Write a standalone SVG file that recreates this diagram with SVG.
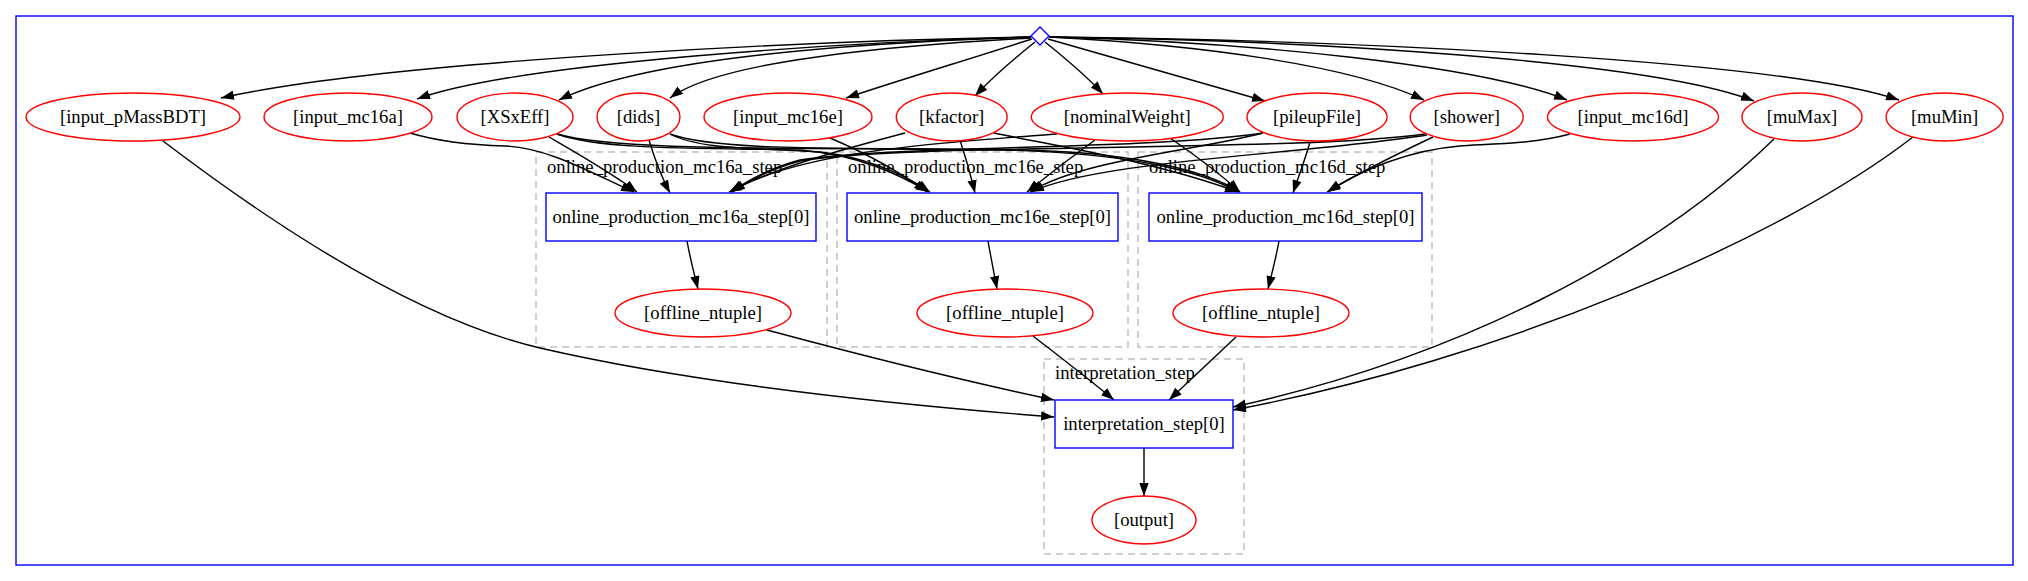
<svg xmlns="http://www.w3.org/2000/svg" width="2028" height="581" viewBox="0 0 2028 581">
<defs>
<marker id="ah" markerUnits="userSpaceOnUse" viewBox="0 0 13 9.4" refX="13" refY="4.7" markerWidth="13" markerHeight="9.4" orient="auto"><path d="M0,0 L13,4.7 L0,9.4 z" fill="#000"/></marker>
<style>
text{font-size:18.67px;fill:#000}
.c{text-anchor:middle}
.el{fill:#fff;stroke:#ff0000;stroke-width:1.4}
.bx{fill:#fff;stroke:#0000ff;stroke-width:1.4}
.cl{fill:none;stroke:#c0c0c0;stroke-width:1.5;stroke-dasharray:7,5}
.e path{fill:none;stroke:#000;stroke-width:1.4;marker-end:url(#ah)}
</style>
</defs>
<rect width="2028" height="581" fill="#fff"/>
<rect x="16" y="16" width="1997" height="549" fill="none" stroke="#0000ff" stroke-width="1.4"/>
<g font-family="Liberation Serif, Times New Roman, serif">
<g id="clusters">
<rect class="cl" x="536" y="152" width="291" height="195"/>
<text x="547" y="173">online_production_mc16a_step</text>
<rect class="cl" x="837" y="152" width="291" height="195"/>
<text x="848" y="173">online_production_mc16e_step</text>
<rect class="cl" x="1138" y="152" width="294" height="195"/>
<text x="1149" y="173">online_production_mc16d_step</text>
<rect class="cl" x="1044" y="359" width="200" height="195"/>
<text x="1055" y="379">interpretation_step</text>
</g>
<g class="e" id="connectors">
<path d="M1031,37 C850,40 400,58 221,98"/>
<path d="M1031,37 C850,42 520,62 417,99"/>
<path d="M1031,37 C880,42 650,55 559,100"/>
<path d="M1031,38 C900,45 720,60 670,98"/>
<path d="M1032,39 C960,62 900,80 846,98"/>
<path d="M1035,42 C1010,62 990,80 975,96"/>
<path d="M1045,42 C1070,62 1090,80 1103,94"/>
<path d="M1048,39 C1130,62 1200,82 1265,101"/>
<path d="M1049,37 C1200,45 1350,65 1424,100"/>
<path d="M1049,37 C1250,42 1480,65 1567,100"/>
<path d="M1049,37 C1300,40 1650,60 1754,101"/>
<path d="M1049,37 C1350,40 1780,60 1899,100"/>
<path d="M163,141 C280,230 420,320 540,348 C700,385 900,405 1054,417"/>
<path d="M410,133 C440,142 470,145 505,146 C545,147 590,172 634,192"/>
<path d="M549,137 C580,155 610,172 637,192"/>
<path d="M557,134 C600,150 700,148 800,150 C860,155 900,175 929,192"/>
<path d="M557,134 C620,152 800,147 1000,150 C1120,152 1200,170 1238,192"/>
<path d="M649,140 C655,160 662,178 670,193"/>
<path d="M670,134 C700,150 760,148 820,152 C870,158 905,175 930,192"/>
<path d="M670,134 C720,152 850,147 1020,150 C1130,152 1205,170 1240,192"/>
<path d="M830,138 C870,155 900,172 927,192"/>
<path d="M905,133 C860,145 780,165 729,192"/>
<path d="M960,140 C966,158 971,176 975,193"/>
<path d="M994,133 C1050,145 1150,160 1238,192"/>
<path d="M1057,134 C950,142 800,150 730,192"/>
<path d="M1095,140 C1070,158 1048,175 1027,192"/>
<path d="M1170,138 C1195,155 1218,172 1240,192"/>
<path d="M1263,133 C1150,150 900,145 800,160 C770,168 748,180 731,192"/>
<path d="M1263,133 C1200,150 1080,160 1030,192"/>
<path d="M1310,142 C1305,160 1298,178 1293,193"/>
<path d="M1425,134 C1300,152 900,143 800,161 C770,169 750,180 732,192"/>
<path d="M1427,135 C1300,155 1100,160 1031,192"/>
<path d="M1433,137 C1395,155 1360,172 1327,192"/>
<path d="M1570,134 C1530,145 1480,144 1460,146 C1410,150 1360,170 1328,192"/>
<path d="M1774,139 C1650,260 1450,360 1233,407"/>
<path d="M1913,137 C1780,240 1500,360 1233,410"/>
<path d="M687,241 C690,258 694,273 698,289"/>
<path d="M988,241 C991,258 994,273 997,289"/>
<path d="M1279,241 C1276,258 1272,273 1268,289"/>
<path d="M767,330 C860,355 960,380 1054,400"/>
<path d="M1033,336 C1060,357 1090,380 1114,400"/>
<path d="M1236,337 C1215,357 1190,380 1169,400"/>
<path d="M1144,448 L1144,496"/>
</g>
<g id="start"><path d="M1040,27 L1049,36 L1040,45 L1031,36 z" fill="#fff" stroke="#0000ff" stroke-width="1.4"/></g>
<g id="input_pMassBDT"><ellipse class="el" cx="133" cy="117" rx="107" ry="24"/><text class="c" x="133" y="123">[input_pMassBDT]</text></g>
<g id="input_mc16a"><ellipse class="el" cx="348" cy="117" rx="84" ry="24"/><text class="c" x="348" y="123">[input_mc16a]</text></g>
<g id="XSxEff"><ellipse class="el" cx="515" cy="117" rx="58" ry="24"/><text class="c" x="515" y="123">[XSxEff]</text></g>
<g id="dids"><ellipse class="el" cx="638.5" cy="117" rx="41.5" ry="24"/><text class="c" x="638.5" y="123">[dids]</text></g>
<g id="input_mc16e"><ellipse class="el" cx="788" cy="117" rx="84" ry="24"/><text class="c" x="788" y="123">[input_mc16e]</text></g>
<g id="kfactor"><ellipse class="el" cx="951.7" cy="117" rx="55.4" ry="24"/><text class="c" x="951.7" y="123">[kfactor]</text></g>
<g id="nominalWeight"><ellipse class="el" cx="1127.3" cy="117" rx="96" ry="24"/><text class="c" x="1127.3" y="123">[nominalWeight]</text></g>
<g id="pileupFile"><ellipse class="el" cx="1317" cy="117" rx="70" ry="24"/><text class="c" x="1317" y="123">[pileupFile]</text></g>
<g id="shower"><ellipse class="el" cx="1466.7" cy="117" rx="56.5" ry="24"/><text class="c" x="1466.7" y="123">[shower]</text></g>
<g id="input_mc16d"><ellipse class="el" cx="1633" cy="117" rx="85.5" ry="24"/><text class="c" x="1633" y="123">[input_mc16d]</text></g>
<g id="muMax"><ellipse class="el" cx="1802" cy="117" rx="60" ry="24"/><text class="c" x="1802" y="123">[muMax]</text></g>
<g id="muMin"><ellipse class="el" cx="1944.6" cy="117" rx="58.5" ry="24"/><text class="c" x="1944.6" y="123">[muMin]</text></g>
<g id="step_mc16a"><rect class="bx" x="546" y="193" width="270" height="48"/><text class="c" x="681" y="223">online_production_mc16a_step[0]</text></g>
<g id="step_mc16e"><rect class="bx" x="847" y="193" width="271" height="48"/><text class="c" x="982.5" y="223">online_production_mc16e_step[0]</text></g>
<g id="step_mc16d"><rect class="bx" x="1149" y="193" width="273" height="48"/><text class="c" x="1285.5" y="223">online_production_mc16d_step[0]</text></g>
<g id="ntuple_mc16a"><ellipse class="el" cx="703" cy="313" rx="88" ry="24"/><text class="c" x="703" y="319">[offline_ntuple]</text></g>
<g id="ntuple_mc16e"><ellipse class="el" cx="1005" cy="313" rx="88" ry="24"/><text class="c" x="1005" y="319">[offline_ntuple]</text></g>
<g id="ntuple_mc16d"><ellipse class="el" cx="1261" cy="313" rx="88" ry="24"/><text class="c" x="1261" y="319">[offline_ntuple]</text></g>
<g id="interpretation"><rect class="bx" x="1055" y="400" width="178" height="48"/><text class="c" x="1144" y="430">interpretation_step[0]</text></g>
<g id="output"><ellipse class="el" cx="1144" cy="520" rx="52" ry="24"/><text class="c" x="1144" y="526">[output]</text></g>
</g>
</svg>
